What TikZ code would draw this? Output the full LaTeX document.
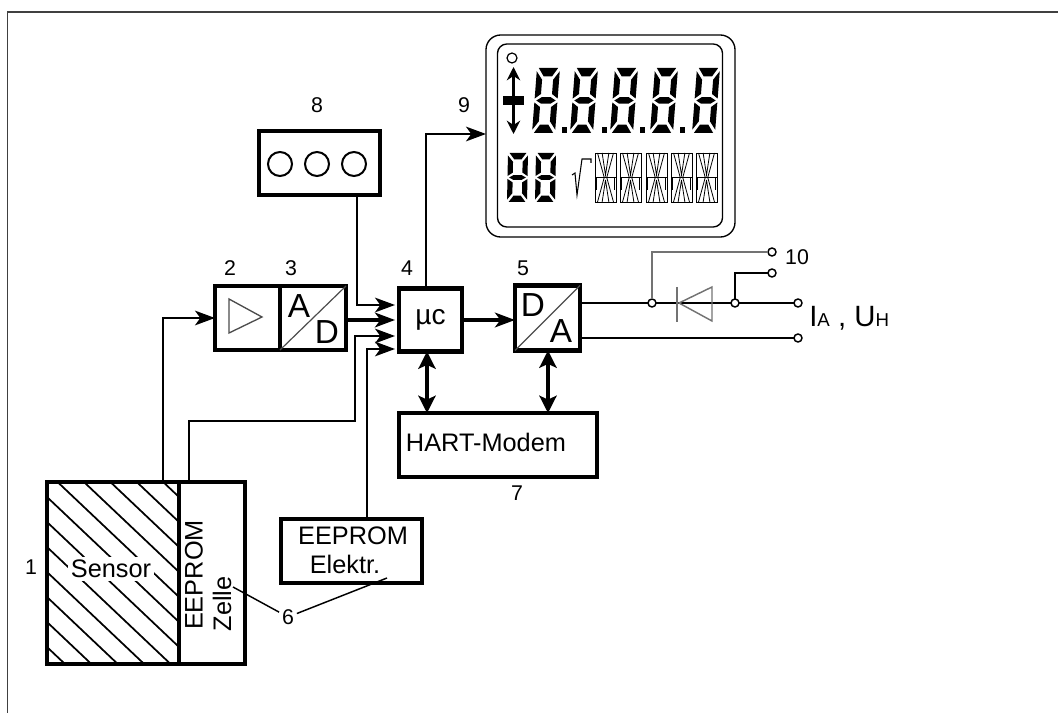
\documentclass[tikz,border=0pt]{standalone}
\usepackage{fontspec}
\setmainfont{Liberation Sans}
\usetikzlibrary{arrows.meta}

\def\px{0.75pt}
\tikzset{
    blockbox/.style={draw,line width=3.2pt,inner sep=0pt,outer sep=0pt,align=center},
    numlabel/.style={font=\fontsize{16}{18}\selectfont,inner sep=2pt},
    boxtext/.style={font=\fontsize{19}{22}\selectfont,inner sep=0pt},
    bigtext/.style={font=\fontsize{25}{28}\selectfont,inner sep=0pt},
    signal/.style={line width=1.6pt,-{Stealth[length=15pt,width=11pt,inset=4pt]}},
    mainsignal/.style={signal,line width=2.4pt},
    busline/.style={line width=2.6pt,{Stealth[length=13pt,width=13pt,inset=3pt]}-{Stealth[length=13pt,width=13pt,inset=3pt]}},
    wire/.style={line width=1.1pt},
    greywire/.style={line width=1.1pt,black!55},
    terminal/.style={circle,draw,line width=1.1pt,fill=white,minimum size=8*\px,inner sep=0pt,outer sep=0pt},
    lcdfill/.style={fill=black,draw=none}
}

% one digit: left, top, width, height, slant
\newcommand{\sevenseg}[5]{
    \begin{scope}[shift={(#1+#5,#2)},y={(-#5,#4)},x={(#3,0)}]
        \fill[lcdfill] (0.08,0) -- (0.92,0) -- (0.68,0.13) -- (0.32,0.13) -- cycle;
        \fill[lcdfill] (0,0.05) -- (0.26,0.18) -- (0.26,0.4) -- (0,0.47) -- cycle;
        \fill[lcdfill] (1,0.05) -- (0.74,0.18) -- (0.74,0.4) -- (1,0.47) -- cycle;
        \fill[lcdfill] (0.08,0.5) -- (0.3,0.45) -- (0.7,0.45) -- (0.92,0.5) -- (0.7,0.55) -- (0.3,0.55) -- cycle;
        \fill[lcdfill] (0,0.53) -- (0.26,0.6) -- (0.26,0.82) -- (0,0.95) -- cycle;
        \fill[lcdfill] (1,0.53) -- (0.74,0.6) -- (0.74,0.82) -- (1,0.95) -- cycle;
        \fill[lcdfill] (0.08,1) -- (0.92,1) -- (0.68,0.87) -- (0.32,0.87) -- cycle;
    \end{scope}
}
% one text cell: left, top
\newcommand{\alphacell}[2]{
    \begin{scope}[shift={(#1,#2)},x={(21,0)},y={(0,49)},line width=0.6pt]
        \draw (0,0) rectangle (1,1);
        \draw (0,0.5) -- (1,0.5);
        \draw (0.12,0) -- (0.44,0.5) (0.34,0) -- (0.5,0.45) -- (0.66,0) (0.88,0) -- (0.56,0.5);
        \draw (0.44,0.5) -- (0.12,1) (0.5,0.55) -- (0.34,1) (0.5,0.55) -- (0.66,1) (0.56,0.5) -- (0.88,1);
        \draw (0.08,0.5) -- (0.08,0.75) (0.92,0.5) -- (0.92,0.75);
    \end{scope}
}

\begin{document}
\begin{tikzpicture}[x=0.75pt,y=-0.75pt]
    \useasboundingbox (0,0) rectangle (1058,713);
    \draw[line width=1.2pt,black!75] (1058,12) -- (7.5,12) -- (7.5,713);

    % sensor with its cell
    \node[blockbox,minimum width=132*\px,minimum height=182*\px] (sensor) at (113,573) {};
    \begin{scope}
        \clip (sensor.north west) rectangle (sensor.south east);
        \foreach \k in {-6,...,7}
            \draw[line width=1.3pt] (47,497+25*\k) -- (179,622+25*\k);
    \end{scope}
    \node[blockbox,minimum width=66*\px,minimum height=182*\px] (cell) at (212,573) {};
    \node[boxtext,fill=white,inner sep=2pt] (sensortext) at (111,569) {Sensor};
    \node[boxtext,rotate=90] (celltext) at (194,575) {EEPROM};
    \node[boxtext,rotate=90] (zelletext) at (222,604) {Zelle};

    % blocks
    \node[blockbox,minimum width=65*\px,minimum height=64*\px] (amp) at (247.5,318) {};
    \node[blockbox,minimum width=66*\px,minimum height=64*\px] (adc) at (313,318) {};
    \node[blockbox,minimum width=63*\px,minimum height=63*\px,font=\fontsize{21}{24}\selectfont] (muc) at (430.5,320) {µc};
    \node[blockbox,minimum width=65*\px,minimum height=65*\px] (dac) at (547.5,318) {};
    \node[blockbox,minimum width=198*\px,minimum height=64*\px] (hart) at (498,445) {};
    \node[boxtext] (harttext) at (486,442) {HART-Modem};
    \node[blockbox,minimum width=121*\px,minimum height=64*\px] (keys) at (319.5,163) {};
    \node[blockbox,minimum width=141*\px,minimum height=64*\px] (elek) at (351.5,551) {};
    \node[boxtext] (elektext) at (353,536) {EEPROM};
    \node[boxtext] (elektext2) at (345,564) {Elektr.};

    % block contents
    \draw[line width=1pt,black!70] (229,299) -- (262,317) -- (229,333) -- cycle;
    \draw[line width=0.9pt,black!70] (adc.south west) -- (adc.north east);
    \node[bigtext] (adca) at (299,306) {A};
    \node[bigtext] (adcd) at (327,332) {D};
    \draw[line width=0.9pt,black!70] (dac.south west) -- (dac.north east);
    \node[bigtext] (dacd) at (533,305) {D};
    \node[bigtext] (daca) at (561,331) {A};
    \foreach \x in {280,317,354}
        \draw[line width=1.5pt] (\x,164) circle (12);

    % display
    \node[draw,line width=1pt,rounded corners=11pt,minimum width=249*\px,minimum height=202*\px,inner sep=0pt,outer sep=0pt] (display) at (610.5,136) {};
    \node[draw,line width=1pt,rounded corners=7pt,minimum width=225*\px,minimum height=183*\px,inner sep=0pt] (displayin) at (610,135.5) {};
    \draw[line width=0.9pt] (512,58) circle (5);
    \fill (503,96) rectangle (524,105);
    \draw[line width=2.6pt,-{Stealth[length=10pt,width=10pt]}] (513.5,97) -- (513.5,67);
    \draw[line width=2.6pt,-{Stealth[length=10pt,width=10pt]}] (513.5,104) -- (513.5,134);
    \foreach \x in {532,570,610,650,692} {
        \sevenseg{\x}{68}{23}{65}{5}
    }
    \foreach \x in {562,602,640,680}
        \fill (\x,127) rectangle (\x+5,133);
    \sevenseg{507}{153}{20}{49}{1}
    \sevenseg{535}{153}{20}{49}{1}
    \draw[line width=0.8pt] (572,175) -- (575,173) -- (577,195) -- (582,159) -- (591,159) -- (591,163);
    \foreach \x in {595,620,646,671,696} {
        \alphacell{\x}{153}
    }

    % signals into the controller
    \coordinate (sensorout) at (163,480);
    \coordinate (cellout) at (189,480);
    \coordinate (cellbend) at (355,421);
    \coordinate (keysin) at (357,305);
    \coordinate (keystip) at (395,305);
    \coordinate (adctip) at (395,320);
    \coordinate (adcout) at (348,320);
    \coordinate (celltip) at (395,336);
    \coordinate (elekin) at (367,349);
    \coordinate (elektip) at (395,349);
    \coordinate (displaybend) at (426,134);
    \coordinate (busmuc) at (427,320);
    \coordinate (busdac) at (548,320);
    \draw[signal] (sensorout) |- (amp.west);
    \draw[signal] (keysin |- keys.south) -- (keysin) -- (keystip);
    \draw[mainsignal] (adcout) -- (adctip);
    \draw[signal] (cellout) |- (cellbend) |- (celltip);
    \draw[signal] (elekin |- elek.north) |- (elektip);
    \draw[signal] (displaybend |- muc.north) -- (displaybend) -- (display.west |- displaybend);
    \draw[mainsignal] (muc.east) -- (dac.west |- muc.east);
    \draw[busline] (busmuc |- muc.south) -- (busmuc |- hart.north);
    \draw[busline] (busdac |- dac.south) -- (busdac |- hart.north);

    % output side
    \node[terminal] (junca) at (652,303) {};
    \node[terminal] (juncb) at (735,303) {};
    \node[terminal] (outa) at (798,303) {};
    \node[terminal] (outb) at (798,338) {};
    \node[terminal] (testa) at (772,252) {};
    \node[terminal] (testb) at (772,273) {};
    \draw[wire] (dac.east |- junca) -- (junca) (junca) -- (juncb) (juncb) -- (outa);
    \draw[wire] (dac.east |- outb) -- (outb);
    \draw[greywire] (junca) |- (testa);
    \draw[wire] (juncb) |- (testb);
    \draw[greywire] (677,287) -- (677,322);
    \draw[greywire] (679,303) -- (712,287) -- (712,321) -- cycle;

    % leaders to the number
    \node[numlabel] (six) at (288,617) {6};
    \coordinate (leadcell) at (233,587);
    \coordinate (leadelek) at (387,578);
    \draw[wire] (leadcell) -- (six);
    \draw[wire] (six) -- (leadelek);

    \node[numlabel] (one) at (31,567) {1};
    \node[numlabel] (two) at (230,268) {2};
    \node[numlabel] (three) at (291,268) {3};
    \node[numlabel] (four) at (407,268) {4};
    \node[numlabel] (five) at (523,268) {5};
    \node[numlabel] (seven) at (517,493) {7};
    \node[numlabel] (eight) at (317,105) {8};
    \node[numlabel] (nine) at (464,105) {9};
    \node[numlabel] (ten) at (797,257) {10};
    \node[anchor=base west,inner sep=0pt,font=\fontsize{22}{24}\selectfont] (output) at (809,327) {I{\fontsize{14}{16}\selectfont A} , U{\fontsize{14}{16}\selectfont H}};
\end{tikzpicture}
\end{document}
